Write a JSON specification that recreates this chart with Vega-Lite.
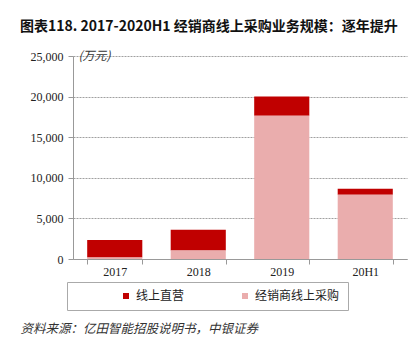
{
  "$schema": "https://vega.github.io/schema/vega-lite/v6.json",
  "autosize": "none",
  "width": 334,
  "height": 203,
  "padding": {"left": 73, "top": 56, "right": 13, "bottom": 95},
  "background": "white",
  "title": {
    "text": "图表118. 2017-2020H1 经销商线上采购业务规模：逐年提升",
    "anchor": "start",
    "frame": "group",
    "dx": -53,
    "offset": 15,
    "font": "Noto Sans CJK SC",
    "fontSize": 14,
    "fontWeight": "bold",
    "color": "#111"
  },
  "data": {
    "values": [
      {"year": "2017", "type": "线上直营", "value": 2140},
      {"year": "2017", "type": "经销商线上采购", "value": 200},
      {"year": "2018", "type": "线上直营", "value": 2550},
      {"year": "2018", "type": "经销商线上采购", "value": 1060},
      {"year": "2019", "type": "线上直营", "value": 2350},
      {"year": "2019", "type": "经销商线上采购", "value": 17650},
      {"year": "20H1", "type": "线上直营", "value": 740},
      {"year": "20H1", "type": "经销商线上采购", "value": 7920}
    ]
  },
  "mark": {"type": "bar"},
  "encoding": {
    "x": {
      "field": "year",
      "type": "nominal",
      "sort": null,
      "scale": {"paddingInner": 0.34, "paddingOuter": 0.17},
      "axis": {
        "title": "资料来源：亿田智能招股说明书，中银证券",
        "titleX": -53,
        "titleY": 69,
        "titleAlign": "left",
        "titleBaseline": "middle",
        "titleFont": "Noto Sans CJK SC",
        "titleFontSize": 12.5,
        "titleFontStyle": "italic",
        "titleFontWeight": "normal",
        "titleColor": "#333",
        "labelAngle": 0,
        "labelFont": "Liberation Serif",
        "labelFontSize": 12,
        "labelColor": "#222",
        "labelPadding": 2,
        "tickBand": "extent",
        "tickSize": 5,
        "tickColor": "#999",
        "domainColor": "#999",
        "grid": false
      }
    },
    "y": {
      "field": "value",
      "type": "quantitative",
      "stack": "zero",
      "scale": {"domain": [0, 25000], "nice": false},
      "axis": {
        "values": [0, 5000, 10000, 15000, 20000, 25000],
        "format": ",.0f",
        "title": "(万元)",
        "titleAngle": 0,
        "titleX": 5,
        "titleY": -1,
        "titleAlign": "left",
        "titleBaseline": "middle",
        "titleFont": "Noto Sans CJK SC",
        "titleFontSize": 12,
        "titleFontStyle": "italic",
        "titleFontWeight": "normal",
        "titleColor": "#333",
        "labelFont": "Liberation Serif",
        "labelFontSize": 12,
        "labelColor": "#222",
        "labelPadding": 5,
        "tickSize": 5,
        "tickColor": "#999",
        "domainColor": "#999",
        "grid": true,
        "gridColor": "#888",
        "gridDash": [2, 1],
        "gridWidth": 0.8
      }
    },
    "color": {
      "field": "type",
      "type": "nominal",
      "scale": {"domain": ["线上直营", "经销商线上采购"], "range": ["#C00000", "#EAADAD"]},
      "legend": {
        "orient": "none",
        "legendX": -6,
        "legendY": 226,
        "direction": "horizontal",
        "title": "　",
        "titleOrient": "left",
        "titleFontSize": 12,
        "titlePadding": 45,
        "labelExpr": "datum.label == '经销商线上采购' ? datum.label + '　　　　' : datum.label",
        "strokeColor": "#aaa",
        "padding": 8,
        "symbolType": "square",
        "symbolSize": 36,
        "symbolStrokeWidth": 0,
        "labelFont": "Noto Sans CJK SC",
        "labelFontSize": 12,
        "labelColor": "#222",
        "labelOffset": 4,
        "columnPadding": 54
      }
    },
    "order": {"field": "type", "sort": "descending"}
  },
  "config": {"view": {"stroke": null}}
}
